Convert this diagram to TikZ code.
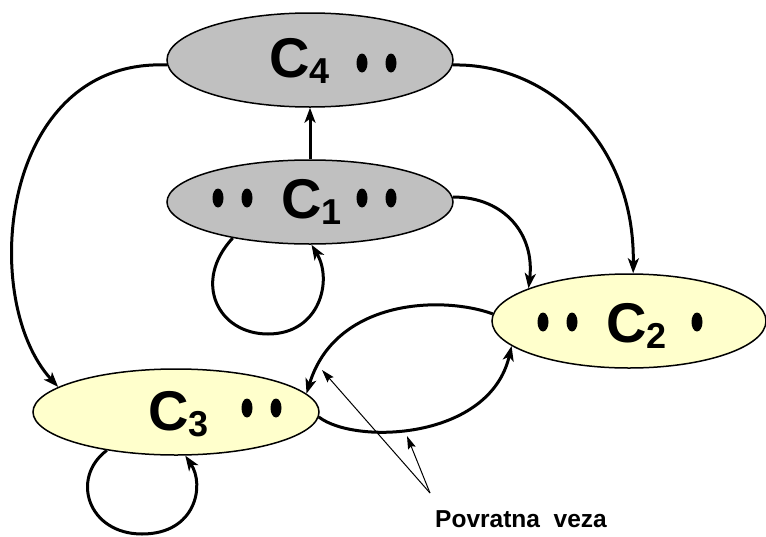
\documentclass[tikz,border=0pt]{standalone}
\usepackage{fontspec}
\setmainfont{Liberation Sans}
\usetikzlibrary{shapes.geometric,arrows.meta}
\definecolor{cgray}{HTML}{C0C0C0}
\definecolor{cyel}{HTML}{FFFFCC}
\tikzset{
  cls/.style={ellipse, draw=black, line width=1.5pt, inner sep=0pt},
  edge/.style={line width=3pt, -{Stealth[length=15pt,width=11pt,inset=4pt]}},
  pointer/.style={line width=1pt, -{Stealth[length=13pt,width=8pt,inset=2pt]}},
  lab/.style={anchor=base west, inner sep=0pt, font=\fontsize{56}{56}\selectfont\bfseries},
  dot/.style={fill=black},
}
\newcommand{\subx}[1]{\raisebox{-6pt}{\fontsize{36}{36}\selectfont #1}}
\begin{document}
\begin{tikzpicture}[x=1pt,y=-1pt]
\useasboundingbox (0,0) rectangle (766,536);
% classes
\node[cls, fill=cgray, minimum width=286pt, minimum height=94pt] (c4) at (310,60) {};
\node[cls, fill=cgray, minimum width=286pt, minimum height=84pt] (c1) at (310,202) {};
\node[cls, fill=cyel, minimum width=274pt, minimum height=94pt] (c2) at (629,321) {};
\node[cls, fill=cyel, minimum width=286pt, minimum height=86pt] (c3) at (176,412) {};
% labels
\node[lab] (t4) at (269,77) {C\subx{4}};
\node[lab] (t1) at (281,218) {C\subx{1}};
\node[lab] (t2) at (606,342) {C\subx{2}};
\node[lab] (t3) at (148,430) {C\subx{3}};
% dots
\foreach \p in {(362,63),(391,63),(218,198),(247,198),(362,198),(391,198),(543,322),(572,322),(697,322),(247,408),(276,408)}
  \fill[dot] \p ellipse [x radius=5.5, y radius=9.5];
% connectors
\draw[edge] (c1.north) -- (c4.south);
\draw[edge] (c4.182) .. controls (0,58) and (-22,300) .. (c3.168);
\draw[edge] (c4.358) .. controls (545,63) and (635,140) .. (c2.85);
\draw[edge] (c1.2) .. controls (505,197) and (535,235) .. (c2.162);
\draw[edge] (c1.205) .. controls (192,282) and (218,334) .. (268,334)
                     .. controls (320,334) and (333,280) .. (c1.272);
\draw[edge] (c3.209) .. controls (70,478) and (88,534) .. (142,534)
                     .. controls (196,534) and (205,485) .. (c3.282);
\draw[edge] (c2.177) .. controls (440,295) and (335,300) .. (c3.8);
\draw[edge] (c3.358) .. controls (355,445) and (490,440) .. (c2.192);
% feedback label
\node[anchor=base west, inner sep=0pt, font=\fontsize{24.5}{24.5}\selectfont\bfseries] (lbl) at (435,527) {Povratna\ \ veza};
\coordinate (ptr) at (430,493);
\coordinate (p1) at (322,370);
\coordinate (p2) at (407,436);
\draw[pointer] (ptr) -- (p1);
\draw[pointer] (ptr) -- (p2);
\end{tikzpicture}
\end{document}
